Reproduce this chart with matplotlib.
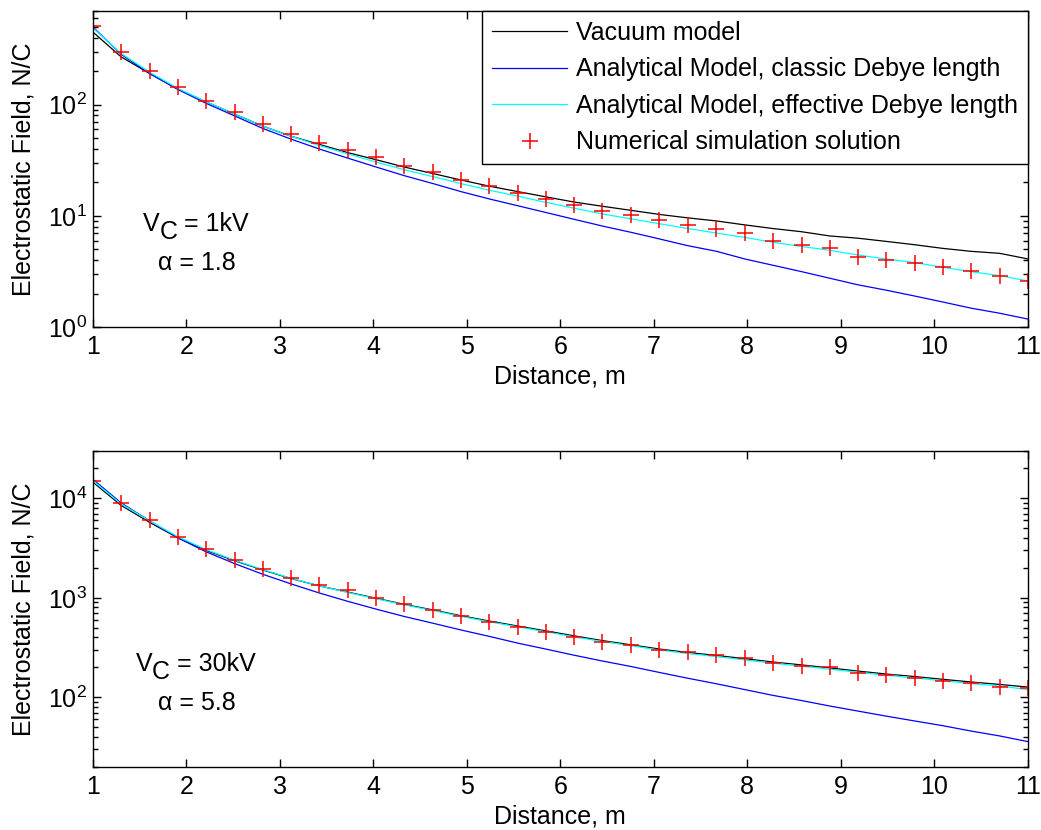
import matplotlib
matplotlib.use("Agg")
import matplotlib.pyplot as plt
from matplotlib.ticker import LogLocator, NullFormatter, FixedLocator
from matplotlib.transforms import offset_copy

plt.rcParams['font.family'] = ['Liberation Sans', 'DejaVu Sans']
plt.rcParams['mathtext.fontset'] = 'custom'
plt.rcParams['mathtext.rm'] = 'Liberation Sans'
plt.rcParams['mathtext.it'] = 'Liberation Sans:italic'
plt.rcParams['mathtext.bf'] = 'Liberation Sans:bold'

# Sample distances (m)
distance = [1.00, 1.30, 1.61, 1.91, 2.21, 2.52, 2.82, 3.12, 3.42, 3.73,
            4.03, 4.33, 4.64, 4.94, 5.24, 5.55, 5.85, 6.15, 6.45, 6.76,
            7.06, 7.36, 7.67, 7.97, 8.27, 8.58, 8.88, 9.18, 9.48, 9.79,
            10.09, 10.39, 10.70, 11.00]

# Vc = 1 kV, alpha = 1.8
vacuum_1kv = [450, 270, 190, 138, 106, 82, 64, 52, 44, 37,
              32, 27.5, 24, 21, 18.5, 16.5, 14.8, 13.3, 12.2, 11.2,
              10.3, 9.6, 9.0, 8.3, 7.7, 7.2, 6.6, 6.3, 5.9, 5.5,
              5.1, 4.8, 4.6, 4.1]
classic_1kv = [500, 285, 190, 137, 103, 79, 61, 49, 40, 33,
               27.5, 23, 19.5, 16.5, 14.2, 12.3, 10.7, 9.3, 8.1, 7.1,
               6.2, 5.4, 4.8, 4.1, 3.6, 3.15, 2.75, 2.4, 2.15, 1.9,
               1.68, 1.48, 1.33, 1.18]
effective_1kv = [490, 290, 195, 140, 106, 82, 64, 52, 43, 36,
                 30.5, 26, 22.5, 19.5, 17, 15, 13.2, 11.7, 10.4, 9.4,
                 8.5, 7.7, 7.0, 6.4, 5.8, 5.3, 4.9, 4.45, 4.1, 3.8,
                 3.45, 3.15, 2.9, 2.6]
numerical_1kv = [510, 300, 203, 144, 109, 86, 67, 55, 45, 39,
                 34, 28, 25, 21, 18.5, 16, 14.2, 12.5, 11, 10.2,
                 9.2, 8.3, 7.6, 7.0, 6.0, 5.5, 5.1, 4.3, 4.05, 3.75,
                 3.45, 3.2, 2.87, 2.6]

# Vc = 30 kV, alpha = 5.8
vacuum_30kv = [14500, 8500, 5700, 4000, 3000, 2350, 1900, 1560, 1320, 1140,
               990, 860, 755, 660, 585, 520, 465, 415, 372, 337,
               306, 283, 264, 245, 227, 212, 198, 184, 172, 162,
               152, 143, 135, 127]
classic_30kv = [15500, 9000, 5900, 4000, 2900, 2200, 1720, 1380, 1120, 920,
                770, 650, 555, 475, 410, 350, 305, 265, 232, 204,
                178, 156, 137, 120, 105, 93, 82, 73, 65, 58,
                52, 46, 41, 36]
effective_30kv = [15000, 8800, 5900, 4100, 3050, 2380, 1920, 1570, 1320, 1130,
                  980, 850, 745, 650, 575, 510, 455, 405, 364, 330,
                  299, 276, 257, 238, 221, 206, 192, 179, 167, 157,
                  147, 138, 130, 120]
numerical_30kv = [15000, 8900, 6000, 4100, 3100, 2400, 1950, 1600, 1350, 1200,
                  1000, 860, 760, 650, 575, 510, 455, 405, 360, 335,
                  300, 285, 265, 247, 224, 207, 200, 175, 167, 158,
                  147, 139, 128, 124]

series_labels = ["Vacuum model",
                 "Analytical Model, classic Debye length",
                 "Analytical Model, effective Debye length",
                 "Numerical simulation solution"]
voltage_texts = [" = 1kV", " = 30kV"]
alpha_texts = ["\u03b1 = 1.8", "\u03b1 = 5.8"]
xticks = list(range(1, 12))

FS = 18
fig = plt.figure(figsize=(10.41, 8.30), dpi=100)
ax_top = fig.add_axes([0.0893, 0.606, 0.898, 0.381])
ax_bot = fig.add_axes([0.0893, 0.0759, 0.898, 0.381])

panels = [
    (ax_top, vacuum_1kv, classic_1kv, effective_1kv, numerical_1kv, (1, 700)),
    (ax_bot, vacuum_30kv, classic_30kv, effective_30kv, numerical_30kv, (20, 3e4)),
]

renderer = fig.canvas.get_renderer()


def voltage_label(ax, xc, y, tail):
    """Draw 'V', a full-size lowered 'C' and the tail, centred on xc."""
    parts = [("V", 0), ("C", -8), (tail, 0)]
    widths = []
    for s, _ in parts:
        t = ax.text(0, 0, s, fontsize=FS, transform=ax.transAxes)
        widths.append(t.get_window_extent(renderer=renderer).width)
        t.remove()
    x_off = -sum(widths) / 2.0
    for (s, dy), w in zip(parts, widths):
        tr = offset_copy(ax.transAxes, fig=fig, x=x_off, y=dy, units='dots')
        ax.text(xc, y, s, fontsize=FS, transform=tr, ha='left', va='baseline')
        x_off += w


for i, (ax, vac, cla, eff, num, ylim) in enumerate(panels):
    ax.plot(distance, vac, color='black', lw=0.9, label=series_labels[0])
    ax.plot(distance, cla, color='#0000ff', lw=0.9, label=series_labels[1])
    ax.plot(distance, eff, color='#00ffff', lw=0.9, label=series_labels[2])
    ax.plot(distance, num, linestyle='none', marker='+', color='#ff0000',
            ms=11, mew=1.1, label=series_labels[3])
    ax.set_yscale('log')
    ax.set_xlim(1, 11)
    ax.set_ylim(*ylim)
    ax.xaxis.set_major_locator(FixedLocator(xticks))
    ax.yaxis.set_major_locator(LogLocator(base=10))
    ax.yaxis.set_minor_locator(LogLocator(base=10, subs=range(2, 10)))
    ax.yaxis.set_minor_formatter(NullFormatter())
    ax.tick_params(which='both', direction='in', top=True, right=True,
                   labelsize=FS, width=1.0)
    ax.tick_params(axis='x', which='major', length=6, pad=6)
    ax.tick_params(axis='y', which='major', length=6, pad=4)
    ax.tick_params(which='minor', length=3.5)
    for sp in ax.spines.values():
        sp.set_linewidth(1.0)
    ax.set_xlabel("Distance, m", fontsize=FS)
    ax.set_ylabel("Electrostatic Field, N/C", fontsize=FS)
    ax.xaxis.set_label_coords(0.5, -0.12)
    ax.yaxis.set_label_coords(-0.062, 0.5)
    voltage_label(ax, 0.110, 0.305, voltage_texts[i])
    ax.text(0.111, 0.203, alpha_texts[i], transform=ax.transAxes, fontsize=FS,
            ha='center', va='center')

leg = ax_top.legend(loc='upper right', bbox_to_anchor=(1.0, 1.0),
                    borderaxespad=0.0, fontsize=FS, fancybox=False,
                    framealpha=1.0, edgecolor='black', numpoints=1,
                    handlelength=3.0, handletextpad=0.35,
                    labelspacing=0.5, borderpad=0.4)
leg.get_frame().set_linewidth(1.0)

fig.savefig("out.png", dpi=100)
